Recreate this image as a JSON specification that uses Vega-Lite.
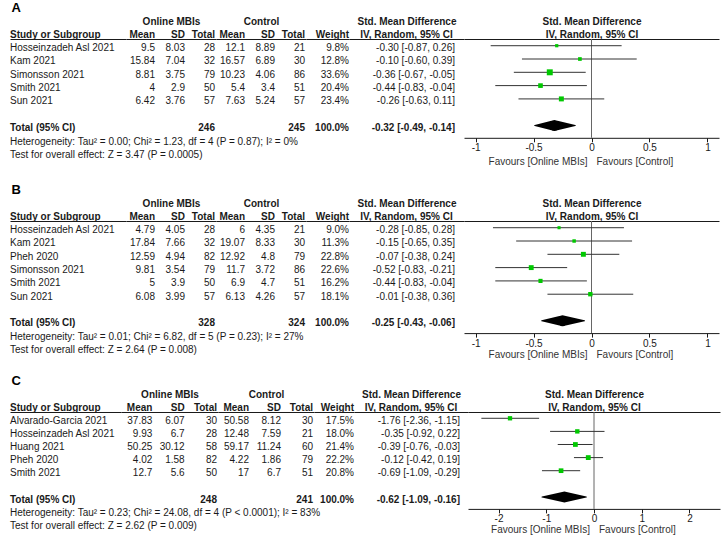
{
  "$schema": "https://vega.github.io/schema/vega-lite/v6.json",
  "padding": {"left": 9, "top": 2, "right": 5, "bottom": 0},
  "datasets": {
    "studies": [
      {"panel":"A","label":"Hosseinzadeh Asl 2021","m1":9.5,"sd1":8.03,"n1":28,"m2":12.1,"sd2":8.89,"n2":21,"w":0.098,"smd":-0.30,"lo":-0.87,"hi":0.26},
      {"panel":"A","label":"Kam 2021","m1":15.84,"sd1":7.04,"n1":32,"m2":16.57,"sd2":6.89,"n2":30,"w":0.128,"smd":-0.10,"lo":-0.60,"hi":0.39},
      {"panel":"A","label":"Simonsson 2021","m1":8.81,"sd1":3.75,"n1":79,"m2":10.23,"sd2":4.06,"n2":86,"w":0.336,"smd":-0.36,"lo":-0.67,"hi":-0.05},
      {"panel":"A","label":"Smith 2021","m1":4,"sd1":2.9,"n1":50,"m2":5.4,"sd2":3.4,"n2":51,"w":0.204,"smd":-0.44,"lo":-0.83,"hi":-0.04},
      {"panel":"A","label":"Sun 2021","m1":6.42,"sd1":3.76,"n1":57,"m2":7.63,"sd2":5.24,"n2":57,"w":0.234,"smd":-0.26,"lo":-0.63,"hi":0.11},
      {"panel":"A","label":"Total (95% CI)","m1":null,"sd1":null,"n1":246,"m2":null,"sd2":null,"n2":245,"w":1,"smd":-0.32,"lo":-0.49,"hi":-0.14},
      {"panel":"B","label":"Hosseinzadeh Asl 2021","m1":4.79,"sd1":4.05,"n1":28,"m2":6,"sd2":4.35,"n2":21,"w":0.09,"smd":-0.28,"lo":-0.85,"hi":0.28},
      {"panel":"B","label":"Kam 2021","m1":17.84,"sd1":7.66,"n1":32,"m2":19.07,"sd2":8.33,"n2":30,"w":0.113,"smd":-0.15,"lo":-0.65,"hi":0.35},
      {"panel":"B","label":"Pheh 2020","m1":12.59,"sd1":4.94,"n1":82,"m2":12.92,"sd2":4.8,"n2":79,"w":0.228,"smd":-0.07,"lo":-0.38,"hi":0.24},
      {"panel":"B","label":"Simonsson 2021","m1":9.81,"sd1":3.54,"n1":79,"m2":11.7,"sd2":3.72,"n2":86,"w":0.226,"smd":-0.52,"lo":-0.83,"hi":-0.21},
      {"panel":"B","label":"Smith 2021","m1":5,"sd1":3.9,"n1":50,"m2":6.9,"sd2":4.7,"n2":51,"w":0.162,"smd":-0.44,"lo":-0.83,"hi":-0.04},
      {"panel":"B","label":"Sun 2021","m1":6.08,"sd1":3.99,"n1":57,"m2":6.13,"sd2":4.26,"n2":57,"w":0.181,"smd":-0.01,"lo":-0.38,"hi":0.36},
      {"panel":"B","label":"Total (95% CI)","m1":null,"sd1":null,"n1":328,"m2":null,"sd2":null,"n2":324,"w":1,"smd":-0.25,"lo":-0.43,"hi":-0.06},
      {"panel":"C","label":"Alvarado-Garcia 2021","m1":37.83,"sd1":6.07,"n1":30,"m2":50.58,"sd2":8.12,"n2":30,"w":0.175,"smd":-1.76,"lo":-2.36,"hi":-1.15},
      {"panel":"C","label":"Hosseinzadeh Asl 2021","m1":9.93,"sd1":6.7,"n1":28,"m2":12.48,"sd2":7.59,"n2":21,"w":0.18,"smd":-0.35,"lo":-0.92,"hi":0.22},
      {"panel":"C","label":"Huang 2021","m1":50.25,"sd1":30.12,"n1":58,"m2":59.17,"sd2":11.24,"n2":60,"w":0.214,"smd":-0.39,"lo":-0.76,"hi":-0.03},
      {"panel":"C","label":"Pheh 2020","m1":4.02,"sd1":1.58,"n1":82,"m2":4.22,"sd2":1.86,"n2":79,"w":0.222,"smd":-0.12,"lo":-0.42,"hi":0.19},
      {"panel":"C","label":"Smith 2021","m1":12.7,"sd1":5.6,"n1":50,"m2":17,"sd2":6.7,"n2":51,"w":0.208,"smd":-0.69,"lo":-1.09,"hi":-0.29},
      {"panel":"C","label":"Total (95% CI)","m1":null,"sd1":null,"n1":248,"m2":null,"sd2":null,"n2":241,"w":1,"smd":-0.62,"lo":-1.09,"hi":-0.16}
    ],
    "notes": [
      {"panel":"A","key":"het","label":"Heterogeneity: Tau² = 0.00; Chi² = 1.23, df = 4 (P = 0.87); I² = 0%"},
      {"panel":"A","key":"test","label":"Test for overall effect: Z = 3.47 (P = 0.0005)"},
      {"panel":"B","key":"het","label":"Heterogeneity: Tau² = 0.01; Chi² = 6.82, df = 5 (P = 0.23); I² = 27%"},
      {"panel":"B","key":"test","label":"Test for overall effect: Z = 2.64 (P = 0.008)"},
      {"panel":"C","key":"het","label":"Heterogeneity: Tau² = 0.23; Chi² = 24.08, df = 4 (P < 0.0001); I² = 83%"},
      {"panel":"C","key":"test","label":"Test for overall effect: Z = 2.62 (P = 0.009)"}
    ],
    "favours": [
      {"side":"left","label":"Favours [Online MBIs]"},
      {"side":"right","label":"Favours [Control]"}
    ]
  },
  "spacing": 17,
  "vconcat": [
    {
      "title": {"text": "A"},
      "bounds": "flush",
      "spacing": 0,
      "hconcat": [
        {"width":116,"height":119.7,"layer":[
          {"data":{"name":"studies"},"transform":[{"filter":"datum.panel=='A'"},{"fold":["label"],"as":["col","val"]}],
           "mark":{"type":"text","align":"left","dy":2.5,"fontWeight":{"expr":"datum.label=='Total (95% CI)'?'bold':'normal'"}},
           "encoding":{"x":{"field":"col","type":"nominal","bandPosition":0,"scale":{"type":"band","domain":["label"],"paddingInner":0,"paddingOuter":0},"axis":{"orient":"top","title":null,"labelExpr":"'Study or Subgroup'","labelAlign":"left","labelOffset":-58}},
             "y":{"field":"label","type":"nominal","scale":{"type":"point","domain":["Hosseinzadeh Asl 2021","Kam 2021","Simonsson 2021","Smith 2021","Sun 2021","","Total (95% CI)","het","test"],"padding":0.5,"round":false},"axis":null},
             "text":{"field":"val","type":"nominal"}}},
          {"data":{"name":"notes"},"transform":[{"filter":"datum.panel=='A'"},{"fold":["label"],"as":["col","val"]}],
           "mark":{"type":"text","align":"left","dy":3},
           "encoding":{"x":{"field":"col","type":"nominal","bandPosition":0},"y":{"field":"key","type":"nominal"},"text":{"field":"val","type":"nominal"}}}
        ]},
        {"width":90,"height":119.7,"data":{"name":"studies"},
         "transform":[{"filter":"datum.panel=='A'"},{"fold":["m1","sd1","n1"],"as":["col","val"]},{"filter":"isValid(datum.val)"}],
         "mark":{"type":"text","align":"right","dx":-1,"dy":2.5,"fontWeight":{"expr":"datum.label=='Total (95% CI)'?'bold':'normal'"}},
         "encoding":{"x":{"field":"col","type":"nominal","bandPosition":1,"scale":{"type":"band","domain":["m1","sd1","n1"],"paddingInner":0,"paddingOuter":0},"axis":{"orient":"top","title":"Online MBIs","labelExpr":"datum.value=='m1'?'Mean':datum.value=='sd1'?'SD':'Total'","labelAlign":"right","labelOffset":14}},
           "y":{"field":"label","type":"nominal","scale":{"type":"point","domain":["Hosseinzadeh Asl 2021","Kam 2021","Simonsson 2021","Smith 2021","Sun 2021","","Total (95% CI)","het","test"],"padding":0.5,"round":false},"axis":null},
           "text":{"field":"val","type":"nominal"}}},
        {"width":90,"height":119.7,"data":{"name":"studies"},
         "transform":[{"filter":"datum.panel=='A'"},{"fold":["m2","sd2","n2"],"as":["col","val"]},{"filter":"isValid(datum.val)"}],
         "mark":{"type":"text","align":"right","dx":-1,"dy":2.5,"fontWeight":{"expr":"datum.label=='Total (95% CI)'?'bold':'normal'"}},
         "encoding":{"x":{"field":"col","type":"nominal","bandPosition":1,"scale":{"type":"band","domain":["m2","sd2","n2"],"paddingInner":0,"paddingOuter":0},"axis":{"orient":"top","title":"Control","labelExpr":"datum.value=='m2'?'Mean':datum.value=='sd2'?'SD':'Total'","labelAlign":"right","labelOffset":14}},
           "y":{"field":"label","type":"nominal","scale":{"type":"point","domain":["Hosseinzadeh Asl 2021","Kam 2021","Simonsson 2021","Smith 2021","Sun 2021","","Total (95% CI)","het","test"],"padding":0.5,"round":false},"axis":null},
           "text":{"field":"val","type":"nominal"}}},
        {"width":43,"height":119.7,"data":{"name":"studies"},
         "transform":[{"filter":"datum.panel=='A'"},{"fold":["w"],"as":["col","val"]}],
         "mark":{"type":"text","align":"right","dy":2.5,"fontWeight":{"expr":"datum.label=='Total (95% CI)'?'bold':'normal'"}},
         "encoding":{"x":{"field":"col","type":"nominal","bandPosition":1,"scale":{"type":"band","domain":["w"],"paddingInner":0,"paddingOuter":0},"axis":{"orient":"top","title":null,"labelExpr":"'Weight'","labelAlign":"right","labelOffset":21.5}},
           "y":{"field":"label","type":"nominal","scale":{"type":"point","domain":["Hosseinzadeh Asl 2021","Kam 2021","Simonsson 2021","Smith 2021","Sun 2021","","Total (95% CI)","het","test"],"padding":0.5,"round":false},"axis":null},
           "text":{"field":"val","type":"quantitative","format":".1%"}}},
        {"width":115,"height":119.7,"data":{"name":"studies"},
         "transform":[{"filter":"datum.panel=='A'"},{"fold":["smd"],"as":["col","val"]}],
         "mark":{"type":"text","align":"right","dx":-9,"dy":2.5,"fontWeight":{"expr":"datum.label=='Total (95% CI)'?'bold':'normal'"},
           "text":{"expr":"(datum.smd<0?'-':'')+format(abs(datum.smd),'.2f')+' ['+(datum.lo<0?'-':'')+format(abs(datum.lo),'.2f')+', '+(datum.hi<0?'-':'')+format(abs(datum.hi),'.2f')+']'"}},
         "encoding":{"x":{"field":"col","type":"nominal","bandPosition":1,"scale":{"type":"band","domain":["smd"],"paddingInner":0,"paddingOuter":0},"axis":{"orient":"top","title":"Std. Mean Difference","labelExpr":"'IV, Random, 95% CI'","labelAlign":"center"}},
           "y":{"field":"label","type":"nominal","scale":{"type":"point","domain":["Hosseinzadeh Asl 2021","Kam 2021","Simonsson 2021","Smith 2021","Sun 2021","","Total (95% CI)","het","test"],"padding":0.5,"round":false},"axis":null}}},
        {"width":255,"height":98.8,"resolve":{"axis":{"x":"independent"}},"layer":[
          {"data":{"name":"studies"},"transform":[{"filter":"datum.panel=='A' && datum.label=='Total (95% CI)'"}],
           "mark":{"type":"rule","color":"#666666"},
           "encoding":{"x":{"datum":0,"type":"quantitative","axis":{"orient":"top","labels":false,"ticks":false,"title":["Std. Mean Difference","IV, Random, 95% CI"],"titlePadding":0,"titleLineHeight":13}}}},
          {"data":{"name":"studies"},"transform":[{"filter":"datum.panel=='A' && datum.label!='Total (95% CI)'"}],
           "mark":{"type":"rule","color":"#333333","strokeWidth":1},
           "encoding":{"x":{"field":"lo","type":"quantitative","scale":{"domain":[-1.1,1.1],"nice":false,"zero":false},"axis":{"orient":"bottom","title":null,"values":[-1,-0.5,0,0.5,1],"labelExpr":"(datum.value<0?'-':'')+format(abs(datum.value),'~g')","ticks":true,"tickSize":4,"tickColor":"#1a1a1a","labelFontWeight":"normal","labelPadding":1,"labelFlush":false}},
             "x2":{"field":"hi"},
             "y":{"field":"label","type":"nominal","scale":{"type":"point","domain":["Hosseinzadeh Asl 2021","Kam 2021","Simonsson 2021","Smith 2021","Sun 2021","","Total (95% CI)"],"padding":0.714,"align":0.353,"round":false},"axis":null}}},
          {"data":{"name":"studies"},"transform":[{"filter":"datum.panel=='A' && datum.label!='Total (95% CI)'"}],
           "mark":{"type":"point","shape":"square","filled":true,"color":"#00c800","opacity":1,"strokeWidth":0},
           "encoding":{"x":{"field":"smd","type":"quantitative","axis":null},"y":{"field":"label","type":"nominal"},
             "size":{"field":"w","type":"quantitative","scale":{"domain":[0,0.35],"range":[0,37]},"legend":null}}},
          {"data":{"name":"studies"},"transform":[{"filter":"datum.panel=='A' && datum.label=='Total (95% CI)'"},{"fold":["lo","smd","hi"],"as":["k","xv"]}],
           "mark":{"type":"trail","color":"black"},
           "encoding":{"x":{"field":"xv","type":"quantitative","axis":null},"y":{"field":"label","type":"nominal"},"order":{"field":"xv","type":"quantitative"},
             "size":{"condition":{"test":"datum.k=='smd'","value":11},"value":0}}},
          {"data":{"name":"favours"},"transform":[{"filter":"datum.side=='left'"}],
           "mark":{"type":"text","align":"right","dx":-4,"dy":24,"color":"#333333"},
           "encoding":{"x":{"datum":0,"type":"quantitative","axis":null},"y":{"value":"height"},"text":{"field":"label","type":"nominal"}}},
          {"data":{"name":"favours"},"transform":[{"filter":"datum.side=='right'"}],
           "mark":{"type":"text","align":"left","dx":5,"dy":24,"color":"#333333"},
           "encoding":{"x":{"datum":0,"type":"quantitative","axis":null},"y":{"value":"height"},"text":{"field":"label","type":"nominal"}}}
        ]}
      ]
    },
    {
      "spacing": 14,
      "vconcat": [
        {
          "title": {"text": "B"},
          "bounds": "flush",
          "spacing": 0,
          "hconcat": [
            {"width":116,"height":133,"layer":[
              {"data":{"name":"studies"},"transform":[{"filter":"datum.panel=='B'"},{"fold":["label"],"as":["col","val"]}],
               "mark":{"type":"text","align":"left","dy":2.5,"fontWeight":{"expr":"datum.label=='Total (95% CI)'?'bold':'normal'"}},
               "encoding":{"x":{"field":"col","type":"nominal","bandPosition":0,"scale":{"type":"band","domain":["label"],"paddingInner":0,"paddingOuter":0},"axis":{"orient":"top","title":null,"labelExpr":"'Study or Subgroup'","labelAlign":"left","labelOffset":-58}},
                 "y":{"field":"label","type":"nominal","scale":{"type":"point","domain":["Hosseinzadeh Asl 2021","Kam 2021","Pheh 2020","Simonsson 2021","Smith 2021","Sun 2021","","Total (95% CI)","het","test"],"padding":0.5,"round":false},"axis":null},
                 "text":{"field":"val","type":"nominal"}}},
              {"data":{"name":"notes"},"transform":[{"filter":"datum.panel=='B'"},{"fold":["label"],"as":["col","val"]}],
               "mark":{"type":"text","align":"left","dy":3},
               "encoding":{"x":{"field":"col","type":"nominal","bandPosition":0},"y":{"field":"key","type":"nominal"},"text":{"field":"val","type":"nominal"}}}
            ]},
            {"width":90,"height":133,"data":{"name":"studies"},
             "transform":[{"filter":"datum.panel=='B'"},{"fold":["m1","sd1","n1"],"as":["col","val"]},{"filter":"isValid(datum.val)"}],
             "mark":{"type":"text","align":"right","dx":-1,"dy":2.5,"fontWeight":{"expr":"datum.label=='Total (95% CI)'?'bold':'normal'"}},
             "encoding":{"x":{"field":"col","type":"nominal","bandPosition":1,"scale":{"type":"band","domain":["m1","sd1","n1"],"paddingInner":0,"paddingOuter":0},"axis":{"orient":"top","title":"Online MBIs","labelExpr":"datum.value=='m1'?'Mean':datum.value=='sd1'?'SD':'Total'","labelAlign":"right","labelOffset":14}},
               "y":{"field":"label","type":"nominal","scale":{"type":"point","domain":["Hosseinzadeh Asl 2021","Kam 2021","Pheh 2020","Simonsson 2021","Smith 2021","Sun 2021","","Total (95% CI)","het","test"],"padding":0.5,"round":false},"axis":null},
               "text":{"field":"val","type":"nominal"}}},
            {"width":90,"height":133,"data":{"name":"studies"},
             "transform":[{"filter":"datum.panel=='B'"},{"fold":["m2","sd2","n2"],"as":["col","val"]},{"filter":"isValid(datum.val)"}],
             "mark":{"type":"text","align":"right","dx":-1,"dy":2.5,"fontWeight":{"expr":"datum.label=='Total (95% CI)'?'bold':'normal'"}},
             "encoding":{"x":{"field":"col","type":"nominal","bandPosition":1,"scale":{"type":"band","domain":["m2","sd2","n2"],"paddingInner":0,"paddingOuter":0},"axis":{"orient":"top","title":"Control","labelExpr":"datum.value=='m2'?'Mean':datum.value=='sd2'?'SD':'Total'","labelAlign":"right","labelOffset":14}},
               "y":{"field":"label","type":"nominal","scale":{"type":"point","domain":["Hosseinzadeh Asl 2021","Kam 2021","Pheh 2020","Simonsson 2021","Smith 2021","Sun 2021","","Total (95% CI)","het","test"],"padding":0.5,"round":false},"axis":null},
               "text":{"field":"val","type":"nominal"}}},
            {"width":43,"height":133,"data":{"name":"studies"},
             "transform":[{"filter":"datum.panel=='B'"},{"fold":["w"],"as":["col","val"]}],
             "mark":{"type":"text","align":"right","dy":2.5,"fontWeight":{"expr":"datum.label=='Total (95% CI)'?'bold':'normal'"}},
             "encoding":{"x":{"field":"col","type":"nominal","bandPosition":1,"scale":{"type":"band","domain":["w"],"paddingInner":0,"paddingOuter":0},"axis":{"orient":"top","title":null,"labelExpr":"'Weight'","labelAlign":"right","labelOffset":21.5}},
               "y":{"field":"label","type":"nominal","scale":{"type":"point","domain":["Hosseinzadeh Asl 2021","Kam 2021","Pheh 2020","Simonsson 2021","Smith 2021","Sun 2021","","Total (95% CI)","het","test"],"padding":0.5,"round":false},"axis":null},
               "text":{"field":"val","type":"quantitative","format":".1%"}}},
            {"width":115,"height":133,"data":{"name":"studies"},
             "transform":[{"filter":"datum.panel=='B'"},{"fold":["smd"],"as":["col","val"]}],
             "mark":{"type":"text","align":"right","dx":-9,"dy":2.5,"fontWeight":{"expr":"datum.label=='Total (95% CI)'?'bold':'normal'"},
               "text":{"expr":"(datum.smd<0?'-':'')+format(abs(datum.smd),'.2f')+' ['+(datum.lo<0?'-':'')+format(abs(datum.lo),'.2f')+', '+(datum.hi<0?'-':'')+format(abs(datum.hi),'.2f')+']'"}},
             "encoding":{"x":{"field":"col","type":"nominal","bandPosition":1,"scale":{"type":"band","domain":["smd"],"paddingInner":0,"paddingOuter":0},"axis":{"orient":"top","title":"Std. Mean Difference","labelExpr":"'IV, Random, 95% CI'","labelAlign":"center"}},
               "y":{"field":"label","type":"nominal","scale":{"type":"point","domain":["Hosseinzadeh Asl 2021","Kam 2021","Pheh 2020","Simonsson 2021","Smith 2021","Sun 2021","","Total (95% CI)","het","test"],"padding":0.5,"round":false},"axis":null}}},
            {"width":255,"height":112.1,"resolve":{"axis":{"x":"independent"}},"layer":[
              {"data":{"name":"studies"},"transform":[{"filter":"datum.panel=='B' && datum.label=='Total (95% CI)'"}],
               "mark":{"type":"rule","color":"#666666"},
               "encoding":{"x":{"datum":0,"type":"quantitative","axis":{"orient":"top","labels":false,"ticks":false,"title":["Std. Mean Difference","IV, Random, 95% CI"],"titlePadding":0,"titleLineHeight":13}}}},
              {"data":{"name":"studies"},"transform":[{"filter":"datum.panel=='B' && datum.label!='Total (95% CI)'"}],
               "mark":{"type":"rule","color":"#333333","strokeWidth":1},
               "encoding":{"x":{"field":"lo","type":"quantitative","scale":{"domain":[-1.1,1.1],"nice":false,"zero":false},"axis":{"orient":"bottom","title":null,"values":[-1,-0.5,0,0.5,1],"labelExpr":"(datum.value<0?'-':'')+format(abs(datum.value),'~g')","ticks":true,"tickSize":4,"tickColor":"#1a1a1a","labelFontWeight":"normal","labelPadding":1,"labelFlush":false}},
                 "x2":{"field":"hi"},
                 "y":{"field":"label","type":"nominal","scale":{"type":"point","domain":["Hosseinzadeh Asl 2021","Kam 2021","Pheh 2020","Simonsson 2021","Smith 2021","Sun 2021","","Total (95% CI)"],"padding":0.714,"align":0.353,"round":false},"axis":null}}},
              {"data":{"name":"studies"},"transform":[{"filter":"datum.panel=='B' && datum.label!='Total (95% CI)'"}],
               "mark":{"type":"point","shape":"square","filled":true,"color":"#00c800","opacity":1,"strokeWidth":0},
               "encoding":{"x":{"field":"smd","type":"quantitative","axis":null},"y":{"field":"label","type":"nominal"},
                 "size":{"field":"w","type":"quantitative","scale":{"domain":[0,0.35],"range":[0,28]},"legend":null}}},
              {"data":{"name":"studies"},"transform":[{"filter":"datum.panel=='B' && datum.label=='Total (95% CI)'"},{"fold":["lo","smd","hi"],"as":["k","xv"]}],
               "mark":{"type":"trail","color":"black"},
               "encoding":{"x":{"field":"xv","type":"quantitative","axis":null},"y":{"field":"label","type":"nominal"},"order":{"field":"xv","type":"quantitative"},
                 "size":{"condition":{"test":"datum.k=='smd'","value":11},"value":0}}},
              {"data":{"name":"favours"},"transform":[{"filter":"datum.side=='left'"}],
               "mark":{"type":"text","align":"right","dx":-4,"dy":22,"color":"#333333"},
               "encoding":{"x":{"datum":0,"type":"quantitative","axis":null},"y":{"value":"height"},"text":{"field":"label","type":"nominal"}}},
              {"data":{"name":"favours"},"transform":[{"filter":"datum.side=='right'"}],
               "mark":{"type":"text","align":"left","dx":5,"dy":22,"color":"#333333"},
               "encoding":{"x":{"datum":0,"type":"quantitative","axis":null},"y":{"value":"height"},"text":{"field":"label","type":"nominal"}}}
            ]}
          ]
        },
        {
          "title": {"text": "C"},
          "bounds": "flush",
          "spacing": 0,
          "hconcat": [
            {"width":111,"height":117.9,"layer":[
              {"data":{"name":"studies"},"transform":[{"filter":"datum.panel=='C'"},{"fold":["label"],"as":["col","val"]}],
               "mark":{"type":"text","align":"left","dy":2.5,"fontWeight":{"expr":"datum.label=='Total (95% CI)'?'bold':'normal'"}},
               "encoding":{"x":{"field":"col","type":"nominal","bandPosition":0,"scale":{"type":"band","domain":["label"],"paddingInner":0,"paddingOuter":0},"axis":{"orient":"top","title":null,"labelExpr":"'Study or Subgroup'","labelAlign":"left","labelOffset":-55.5}},
                 "y":{"field":"label","type":"nominal","scale":{"type":"point","domain":["Alvarado-Garcia 2021","Hosseinzadeh Asl 2021","Huang 2021","Pheh 2020","Smith 2021","","Total (95% CI)","het","test"],"padding":0.5,"round":false},"axis":null},
                 "text":{"field":"val","type":"nominal"}}},
              {"data":{"name":"notes"},"transform":[{"filter":"datum.panel=='C'"},{"fold":["label"],"as":["col","val"]}],
               "mark":{"type":"text","align":"left","dy":3},
               "encoding":{"x":{"field":"col","type":"nominal","bandPosition":0},"y":{"field":"key","type":"nominal"},"text":{"field":"val","type":"nominal"}}}
            ]},
            {"width":97,"height":117.9,"data":{"name":"studies"},
             "transform":[{"filter":"datum.panel=='C'"},{"fold":["m1","sd1","n1"],"as":["col","val"]},{"filter":"isValid(datum.val)"}],
             "mark":{"type":"text","align":"right","dx":-1,"dy":2.5,"fontWeight":{"expr":"datum.label=='Total (95% CI)'?'bold':'normal'"}},
             "encoding":{"x":{"field":"col","type":"nominal","bandPosition":1,"scale":{"type":"band","domain":["m1","sd1","n1"],"paddingInner":0,"paddingOuter":0},"axis":{"orient":"top","title":"Online MBIs","labelExpr":"datum.value=='m1'?'Mean':datum.value=='sd1'?'SD':'Total'","labelAlign":"right","labelOffset":15.2}},
               "y":{"field":"label","type":"nominal","scale":{"type":"point","domain":["Alvarado-Garcia 2021","Hosseinzadeh Asl 2021","Huang 2021","Pheh 2020","Smith 2021","","Total (95% CI)","het","test"],"padding":0.5,"round":false},"axis":null},
               "text":{"field":"val","type":"nominal"}}},
            {"width":96,"height":117.9,"data":{"name":"studies"},
             "transform":[{"filter":"datum.panel=='C'"},{"fold":["m2","sd2","n2"],"as":["col","val"]},{"filter":"isValid(datum.val)"}],
             "mark":{"type":"text","align":"right","dx":-1,"dy":2.5,"fontWeight":{"expr":"datum.label=='Total (95% CI)'?'bold':'normal'"}},
             "encoding":{"x":{"field":"col","type":"nominal","bandPosition":1,"scale":{"type":"band","domain":["m2","sd2","n2"],"paddingInner":0,"paddingOuter":0},"axis":{"orient":"top","title":"Control","labelExpr":"datum.value=='m2'?'Mean':datum.value=='sd2'?'SD':'Total'","labelAlign":"right","labelOffset":15}},
               "y":{"field":"label","type":"nominal","scale":{"type":"point","domain":["Alvarado-Garcia 2021","Hosseinzadeh Asl 2021","Huang 2021","Pheh 2020","Smith 2021","","Total (95% CI)","het","test"],"padding":0.5,"round":false},"axis":null},
               "text":{"field":"val","type":"nominal"}}},
            {"width":40,"height":117.9,"data":{"name":"studies"},
             "transform":[{"filter":"datum.panel=='C'"},{"fold":["w"],"as":["col","val"]}],
             "mark":{"type":"text","align":"right","dy":2.5,"fontWeight":{"expr":"datum.label=='Total (95% CI)'?'bold':'normal'"}},
             "encoding":{"x":{"field":"col","type":"nominal","bandPosition":1,"scale":{"type":"band","domain":["w"],"paddingInner":0,"paddingOuter":0},"axis":{"orient":"top","title":null,"labelExpr":"'Weight'","labelAlign":"right","labelOffset":20}},
               "y":{"field":"label","type":"nominal","scale":{"type":"point","domain":["Alvarado-Garcia 2021","Hosseinzadeh Asl 2021","Huang 2021","Pheh 2020","Smith 2021","","Total (95% CI)","het","test"],"padding":0.5,"round":false},"axis":null},
               "text":{"field":"val","type":"quantitative","format":".1%"}}},
            {"width":114,"height":117.9,"data":{"name":"studies"},
             "transform":[{"filter":"datum.panel=='C'"},{"fold":["smd"],"as":["col","val"]}],
             "mark":{"type":"text","align":"right","dx":-8,"dy":2.5,"fontWeight":{"expr":"datum.label=='Total (95% CI)'?'bold':'normal'"},
               "text":{"expr":"(datum.smd<0?'-':'')+format(abs(datum.smd),'.2f')+' ['+(datum.lo<0?'-':'')+format(abs(datum.lo),'.2f')+', '+(datum.hi<0?'-':'')+format(abs(datum.hi),'.2f')+']'"}},
             "encoding":{"x":{"field":"col","type":"nominal","bandPosition":1,"scale":{"type":"band","domain":["smd"],"paddingInner":0,"paddingOuter":0},"axis":{"orient":"top","title":"Std. Mean Difference","labelExpr":"'IV, Random, 95% CI'","labelAlign":"center"}},
               "y":{"field":"label","type":"nominal","scale":{"type":"point","domain":["Alvarado-Garcia 2021","Hosseinzadeh Asl 2021","Huang 2021","Pheh 2020","Smith 2021","","Total (95% CI)","het","test"],"padding":0.5,"round":false},"axis":null}}},
            {"width":252,"height":96.9,"resolve":{"axis":{"x":"independent"}},"layer":[
              {"data":{"name":"studies"},"transform":[{"filter":"datum.panel=='C' && datum.label=='Total (95% CI)'"}],
               "mark":{"type":"rule","color":"#666666"},
               "encoding":{"x":{"datum":0,"type":"quantitative","axis":{"orient":"top","labels":false,"ticks":false,"title":["Std. Mean Difference","IV, Random, 95% CI"],"titlePadding":0,"titleLineHeight":13}}}},
              {"data":{"name":"studies"},"transform":[{"filter":"datum.panel=='C' && datum.label!='Total (95% CI)'"}],
               "mark":{"type":"rule","color":"#333333","strokeWidth":1},
               "encoding":{"x":{"field":"lo","type":"quantitative","scale":{"domain":[-2.64,2.64],"nice":false,"zero":false},"axis":{"orient":"bottom","title":null,"values":[-2,-1,0,1,2],"labelExpr":"(datum.value<0?'-':'')+format(abs(datum.value),'~g')","ticks":true,"tickSize":4,"tickColor":"#1a1a1a","labelFontWeight":"normal","labelPadding":1,"labelFlush":false}},
                 "x2":{"field":"hi"},
                 "y":{"field":"label","type":"nominal","scale":{"type":"point","domain":["Alvarado-Garcia 2021","Hosseinzadeh Asl 2021","Huang 2021","Pheh 2020","Smith 2021","","Total (95% CI)"],"padding":0.698,"align":0.344,"round":false},"axis":null}}},
              {"data":{"name":"studies"},"transform":[{"filter":"datum.panel=='C' && datum.label!='Total (95% CI)'"}],
               "mark":{"type":"point","shape":"square","filled":true,"color":"#00c800","opacity":1,"strokeWidth":0},
               "encoding":{"x":{"field":"smd","type":"quantitative","axis":null},"y":{"field":"label","type":"nominal"},
                 "size":{"field":"w","type":"quantitative","scale":{"domain":[0,0.35],"range":[0,20]},"legend":null}}},
              {"data":{"name":"studies"},"transform":[{"filter":"datum.panel=='C' && datum.label=='Total (95% CI)'"},{"fold":["lo","smd","hi"],"as":["k","xv"]}],
               "mark":{"type":"trail","color":"black"},
               "encoding":{"x":{"field":"xv","type":"quantitative","axis":null},"y":{"field":"label","type":"nominal"},"order":{"field":"xv","type":"quantitative"},
                 "size":{"condition":{"test":"datum.k=='smd'","value":11},"value":0}}},
              {"data":{"name":"favours"},"transform":[{"filter":"datum.side=='left'"}],
               "mark":{"type":"text","align":"right","dx":-4,"dy":21,"color":"#333333"},
               "encoding":{"x":{"datum":0,"type":"quantitative","axis":null},"y":{"value":"height"},"text":{"field":"label","type":"nominal"}}},
              {"data":{"name":"favours"},"transform":[{"filter":"datum.side=='right'"}],
               "mark":{"type":"text","align":"left","dx":5,"dy":21,"color":"#333333"},
               "encoding":{"x":{"datum":0,"type":"quantitative","axis":null},"y":{"value":"height"},"text":{"field":"label","type":"nominal"}}}
            ]}
          ]
        }
      ]
    }
  ],
  "config": {
    "view": {"stroke": null},
    "font": "Liberation Sans",
    "text": {"font": "Liberation Sans", "fontSize": 10, "color": "#1a1a1a"},
    "axis": {"labelFont": "Liberation Sans", "titleFont": "Liberation Sans", "labelFontSize": 10, "titleFontSize": 10, "labelColor": "#1a1a1a", "titleColor": "#1a1a1a", "domainColor": "#1a1a1a", "domainWidth": 1, "ticks": false, "tickSize": 0, "grid": false, "labelAngle": 0, "labelFontWeight": "bold", "titleFontWeight": "bold", "labelPadding": 0, "titlePadding": 3},
    "title": {"font": "Liberation Sans", "fontSize": 13, "fontWeight": "bold", "anchor": "start", "color": "#000000", "offset": 1, "dx": 2}
  }
}
